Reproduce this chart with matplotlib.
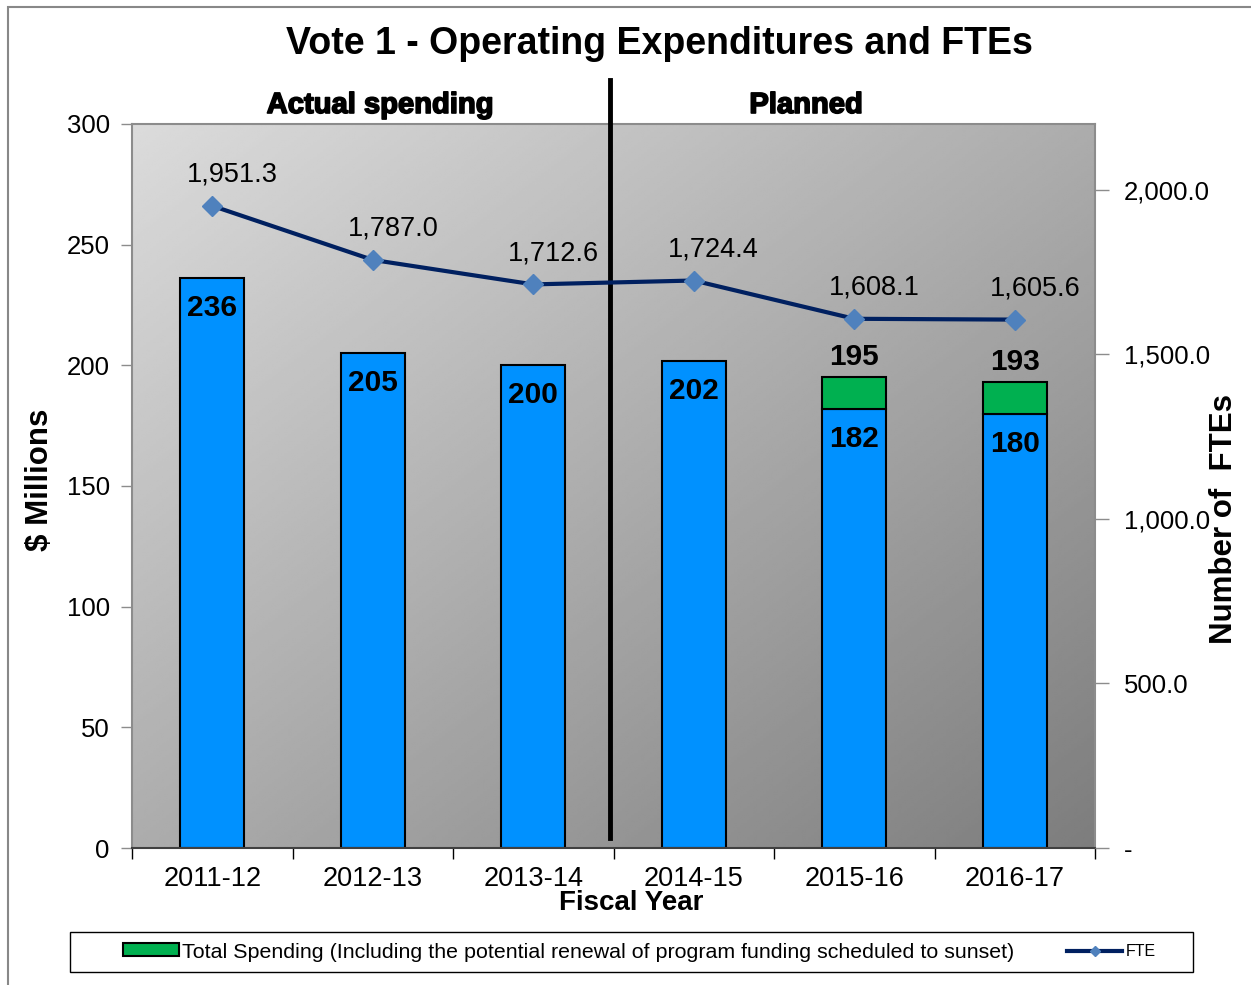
import numpy as np
import matplotlib.pyplot as plt
from matplotlib.patches import Patch, Rectangle
from matplotlib.lines import Line2D
from matplotlib.ticker import FuncFormatter
import matplotlib.patheffects as pe

plt.rcParams['font.family'] = ['Liberation Sans', 'DejaVu Sans']

years = ['2011-12', '2012-13', '2013-14', '2014-15', '2015-16', '2016-17']
spending = [236, 205, 200, 202, 182, 180]
total_spending = [None, None, None, None, 195, 193]
ftes = [1951.3, 1787.0, 1712.6, 1724.4, 1608.1, 1605.6]

blue = '#0091FF'
green = '#00B050'
navy = '#002060'
marker_blue = '#4F81BD'
spine_gray = '#8C8C8C'

W, H = 1251, 985
fig = plt.figure(figsize=(W / 100, H / 100), dpi=100)
ax = fig.add_axes([132 / W, 1 - 848 / H, (1095 - 132) / W, (848 - 124) / H])

# diagonal grey gradient behind the plot
gx, gy = np.meshgrid(np.linspace(0, 1, 300), np.linspace(0, 1, 300))
shade = 0.86 - 0.37 * (gx + gy) / 2
ax.imshow(shade, extent=[0, 1, 0, 1], transform=ax.transAxes, cmap='gray',
          vmin=0, vmax=1, aspect='auto', zorder=0, interpolation='bilinear')

x = np.arange(len(years))
bw = 0.4
ax.bar(x, spending, width=bw, color=blue, edgecolor='black', linewidth=1.5, zorder=2)
extra = [t - s if t is not None else 0 for t, s in zip(total_spending, spending)]
green_bars = ax.bar(x, extra, width=bw, bottom=spending, color=green,
                    edgecolor='black', linewidth=1.5, zorder=2)
for i, b in enumerate(green_bars):
    if extra[i] == 0:
        b.set_visible(False)

for i, v in enumerate(spending):
    ax.annotate(f'{v}', (x[i], v), xytext=(0, -30), textcoords='offset pixels',
                ha='center', va='center', fontsize=21.5, fontweight='bold', zorder=4)
for i, t in enumerate(total_spending):
    if t is not None:
        ax.annotate(f'{t}', (x[i], t), xytext=(0, 20), textcoords='offset pixels',
                    ha='center', va='center', fontsize=21.5, fontweight='bold', zorder=4)

ax.set_xlim(-0.5, len(years) - 0.5)
ax.set_ylim(0, 300)
ax.set_yticks(range(0, 301, 50))
ax.set_xticks(np.arange(-0.5, len(years), 1))
ax.set_xticklabels([])
ax.set_xticks(x, minor=True)
ax.set_xticklabels(years, minor=True)
ax.tick_params(axis='x', which='major', length=8, width=1, color='black')
ax.tick_params(axis='x', which='minor', length=0, pad=13, labelsize=19.5)
ax.tick_params(axis='y', length=8, width=1, color=spine_gray, pad=8, labelsize=18.5)
for s in ['left', 'right', 'top']:
    ax.spines[s].set_color(spine_gray)
    ax.spines[s].set_linewidth(1.5)
ax.spines['bottom'].set_color('#404040')
ax.spines['bottom'].set_linewidth(1.5)

# FTE line on the secondary axis
ax2 = ax.twinx()
ax2.plot(x, ftes, color=navy, linewidth=3, marker='D', markersize=10,
         markerfacecolor=marker_blue, markeredgecolor=marker_blue, zorder=3)
for i, f in enumerate(ftes):
    ax2.annotate(f'{f:,.1f}', (x[i], f), xytext=(20, 31), textcoords='offset pixels',
                 ha='center', va='center', fontsize=19.5)
ax2.set_ylim(0, 2200)
ax2.set_yticks(range(0, 2001, 500))
ax2.yaxis.set_major_formatter(FuncFormatter(lambda v, p: '-' if v == 0 else f'{v:,.1f}'))
ax2.tick_params(axis='y', length=10, width=1, color=spine_gray, pad=11, labelsize=18.5)
for s in ['left', 'right', 'top', 'bottom']:
    ax2.spines[s].set_visible(False)

# split between actual and planned years
ax.axvline(2.48, ymin=10 / 724, ymax=768 / 724, color='black', linewidth=3.5,
           clip_on=False, zorder=5)

fig.text(659 / W, 1 - 44 / H, 'Vote 1 - Operating Expenditures and FTEs',
         ha='center', va='center', fontsize=27, fontweight='bold')
stroke = [pe.withStroke(linewidth=1.2, foreground='black')]
fig.text(380 / W, 1 - 105 / H, 'Actual spending', ha='center', va='center',
         fontsize=21, fontweight='bold', path_effects=stroke)
fig.text(806 / W, 1 - 105 / H, 'Planned', ha='center', va='center',
         fontsize=21, fontweight='bold', path_effects=stroke)
fig.text(40 / W, 1 - 480 / H, '$ Millions', rotation=90, ha='center', va='center',
         fontsize=22.5, fontweight='bold')
fig.text(1224 / W, 1 - 519 / H, 'Number of  FTEs', rotation=90, ha='center', va='center',
         fontsize=22.5, fontweight='bold')
fig.text(631 / W, 1 - 903 / H, 'Fiscal Year', ha='center', va='center',
         fontsize=20, fontweight='bold')

# outer frame and legend box
fig.patches.append(Rectangle((8 / W, -0.1), 1.2, 1 - 7 / H + 0.1, transform=fig.transFigure,
                             fill=False, edgecolor='#888888', linewidth=1.5))
fig.patches.append(Rectangle((70 / W, 1 - 972 / H), (1193 - 70) / W, 40 / H,
                             transform=fig.transFigure, fill=False,
                             edgecolor='black', linewidth=1))

fig.legend(handles=[Patch(facecolor=green, edgecolor='black', linewidth=1.5)],
           labels=['Total Spending (Including the potential renewal of program funding scheduled to sunset)'],
           loc='center left', bbox_to_anchor=(104 / W, 1 - 952 / H), frameon=False,
           fontsize=15.4, handlelength=2.6, handleheight=0.55, handletextpad=0.15)
fig.legend(handles=[Line2D([], [], color=navy, linewidth=3, marker='D', markersize=5,
                           markerfacecolor=marker_blue, markeredgecolor=marker_blue)],
           labels=['FTE'], loc='center left', bbox_to_anchor=(1053 / W, 1 - 952 / H),
           frameon=False, fontsize=11.5, handlelength=3.4, handletextpad=0.25)

fig.savefig('out.png', dpi=100)
